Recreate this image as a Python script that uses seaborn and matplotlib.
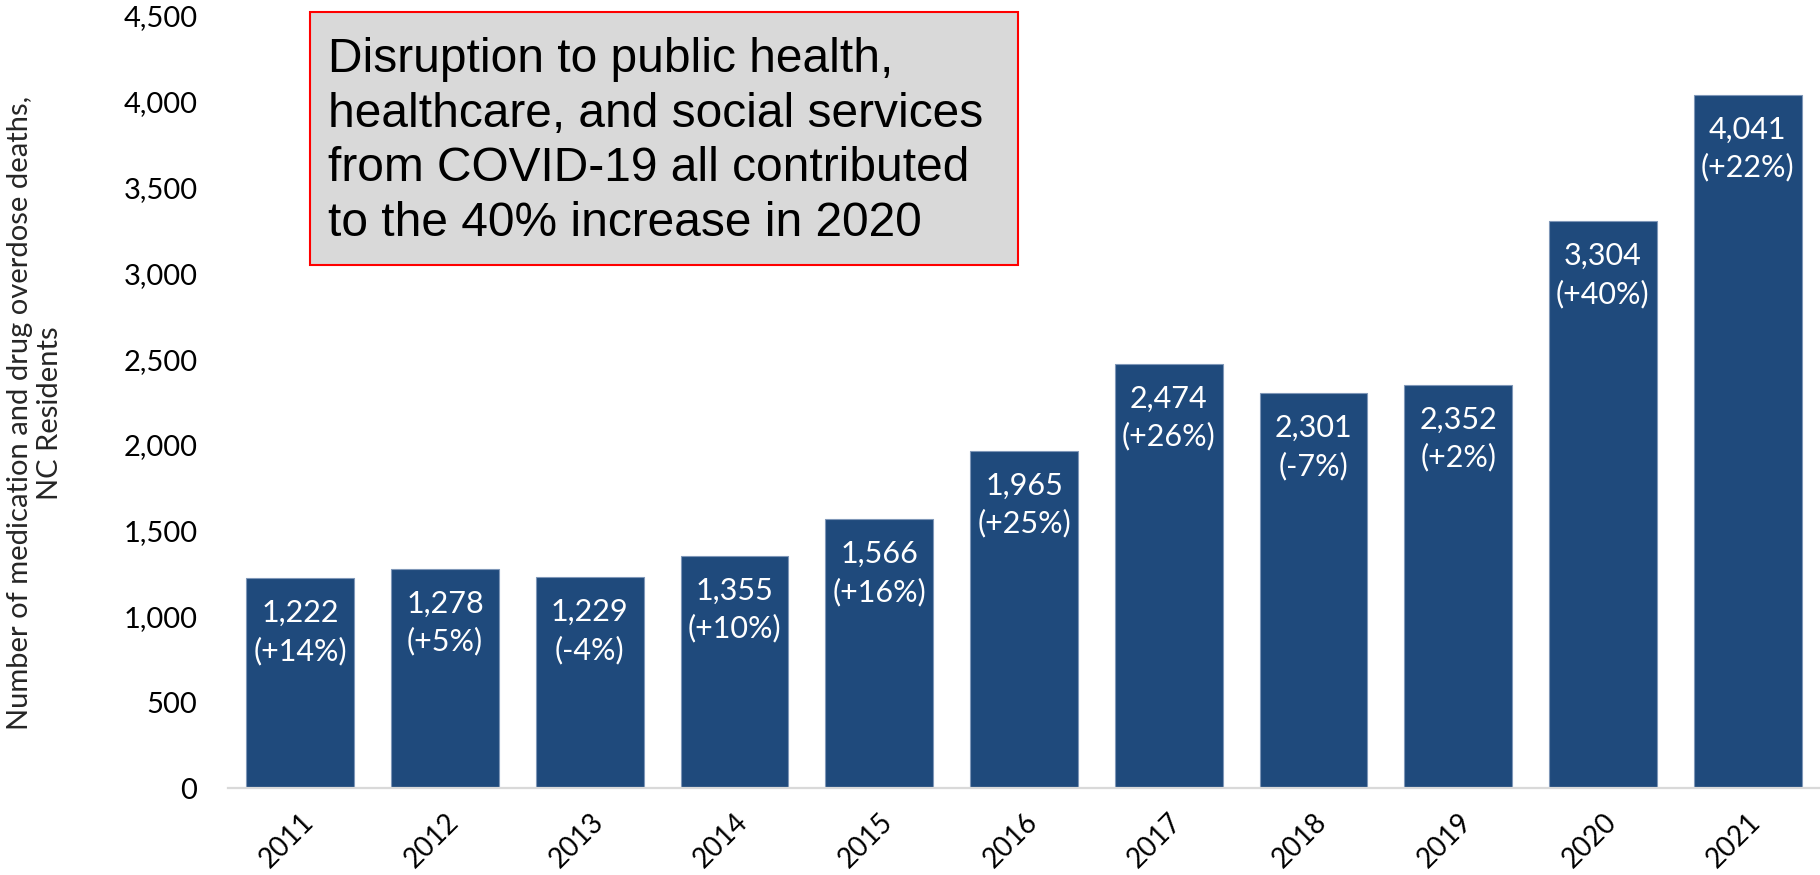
import matplotlib
matplotlib.use("Agg")
import matplotlib.pyplot as plt
import seaborn as sns
import pandas as pd
from matplotlib.patches import Rectangle
from matplotlib.ticker import FuncFormatter, MultipleLocator

years = ["2011", "2012", "2013", "2014", "2015", "2016", "2017", "2018", "2019", "2020", "2021"]
deaths = [1222, 1278, 1229, 1355, 1566, 1965, 2474, 2301, 2352, 3304, 4041]
pct_change = ["+14%", "+5%", "-4%", "+10%", "+16%", "+25%", "+26%", "-7%", "+2%", "+40%", "+22%"]
y_label = "Number of medication and drug overdose deaths,\nNC Residents"
note = ("Disruption to public health,\nhealthcare, and social services\n"
        "from COVID-19 all contributed\nto the 40% increase in 2020")

sns.set_theme(style="white")
plt.rcParams["font.family"] = ["Lato", "DejaVu Sans"]

df = pd.DataFrame({"year": years, "deaths": deaths})

fig = plt.figure(figsize=(18.2, 8.75), dpi=100)
ax = fig.add_axes([0.1253, 0.0994, 0.8747, 0.8823])

sns.barplot(data=df, x="year", y="deaths", color="#1F4A7C", saturation=1,
            width=0.745, edgecolor="#7F97B8", linewidth=0.8, ax=ax)

ax.set_ylim(0, 4500)
ax.yaxis.set_major_locator(MultipleLocator(500))
ax.yaxis.set_major_formatter(FuncFormatter(lambda v, p: f"{int(v):,}"))
ax.tick_params(axis="y", labelsize=21, length=0, pad=22, labelcolor="black")
ax.tick_params(axis="x", length=0, labelsize=20, labelcolor="black", pad=15)
for lab in ax.get_xticklabels():
    lab.set_rotation(45)
    lab.set_ha("right")
    lab.set_va("top")
    lab.set_rotation_mode("anchor")

for s in ["top", "right", "left"]:
    ax.spines[s].set_visible(False)
ax.spines["bottom"].set_color("#D9D9D9")
ax.spines["bottom"].set_linewidth(1.6)

ax.set_xlabel("")
ax.set_ylabel(y_label, fontsize=21, linespacing=1.2)
ax.yaxis.set_label_coords(-0.1036, 0.486)

for i, (v, p) in enumerate(zip(deaths, pct_change)):
    ax.annotate(f"{v:,}\n({p})", xy=(i, v), xytext=(0, -15), textcoords="offset points",
                ha="center", va="top", color="white", fontsize=22, linespacing=1.4)

fig.add_artist(Rectangle((0.1703, 0.6976), 0.389, 0.2891, transform=fig.transFigure,
                         facecolor="#D9D9D9", edgecolor="#FF0000", linewidth=1.5))
fig.text(0.1802, 0.8384, note, family=["Liberation Sans", "DejaVu Sans"], fontsize=34.5,
         ha="left", va="center", linespacing=1.27, color="black")

fig.savefig("out.png", dpi=100)
